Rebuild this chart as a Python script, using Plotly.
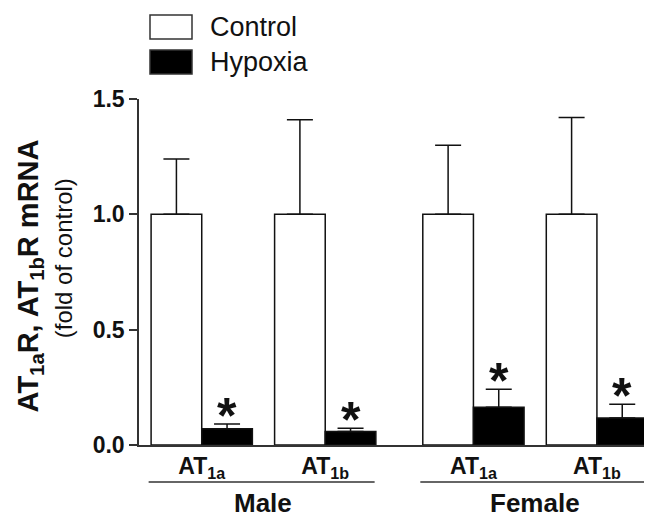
import plotly.graph_objects as go

# ---- data ----
sexes = ["Male", "Female"]
receptors = ["AT<sub>1a</sub>", "AT<sub>1b</sub>"]
series_names = ["Control", "Hypoxia"]
control_vals = [1.0, 1.0, 1.0, 1.0]
control_err = [0.24, 0.41, 0.30, 0.42]
hypoxia_vals = [0.07, 0.058, 0.164, 0.117]
hypoxia_err = [0.021, 0.015, 0.078, 0.06]
significant = [True, True, True, True]

# ---- layout helpers ----
sex_gap = 2.2
pos = []
tick_text = []
for si, s in enumerate(sexes):
    for ri, r in enumerate(receptors):
        pos.append(si * sex_gap + ri)
        tick_text.append(r)
bw = 0.41
off = bw / 2

FONT = "Liberation Sans, Arial, sans-serif"
INK = "#111111"
AX = "#333333"

fig = go.Figure()
fig.add_trace(go.Bar(
    x=[p - off for p in pos], y=control_vals, width=bw, name=series_names[0],
    marker=dict(color="white", line=dict(color=INK, width=1.5)),
    error_y=dict(type="data", array=control_err, arrayminus=[0] * 4,
                 symmetric=False, color=INK, thickness=1.5, width=13),
    showlegend=False,
))
fig.add_trace(go.Bar(
    x=[p + off for p in pos], y=hypoxia_vals, width=bw, name=series_names[1],
    marker=dict(color="black", line=dict(color=INK, width=1.5)),
    error_y=dict(type="data", array=hypoxia_err, arrayminus=[0] * 4,
                 symmetric=False, color=INK, thickness=1.5, width=13),
    showlegend=False,
))

annotations = []
shapes = []
# asterisks
for i, p in enumerate(pos):
    if significant[i]:
        annotations.append(dict(
            x=p + off, y=hypoxia_vals[i] + hypoxia_err[i], xref="x", yref="y",
            text="<b>*</b>", showarrow=False, yanchor="bottom", yshift=-22,
            font=dict(family=FONT, size=50, color=INK)))

# sex group underlines and labels
for si, s in enumerate(sexes):
    a = pos[si * 2]
    b = pos[si * 2 + 1]
    shapes.append(dict(type="line", xref="x", yref="paper",
                       x0=a - 0.43, x1=b + 0.4, y0=-0.107, y1=-0.107,
                       line=dict(color=AX, width=1.5)))
    annotations.append(dict(x=(a + b) / 2, y=-0.168, xref="x", yref="paper",
                            text="<b>%s</b>" % s, showarrow=False, yanchor="middle",
                            font=dict(family=FONT, size=26, color=INK)))

# y-axis title (two lines)
annotations.append(dict(x=-0.212, y=0.488, xref="paper", yref="paper",
                        text="<b>AT<sub>1a</sub>R, AT<sub>1b</sub>R mRNA</b>",
                        textangle=-90, showarrow=False, xanchor="center", yanchor="middle",
                        font=dict(family=FONT, size=29, color=INK)))
annotations.append(dict(x=-0.148, y=0.54, xref="paper", yref="paper",
                        text="(fold of control)",
                        textangle=-90, showarrow=False, xanchor="center", yanchor="middle",
                        font=dict(family=FONT, size=24, color=INK)))

# legend (manual)
leg_fill = ["white", "black"]
leg_y = [27, 62]
for name, fill, yc in zip(series_names, leg_fill, leg_y):
    shapes.append(dict(type="rect", xref="paper", yref="paper",
                       x0=(150 - 139) / 513, x1=(192 - 139) / 513,
                       y0=(445 - (yc - 12)) / 346, y1=(445 - (yc + 12)) / 346,
                       fillcolor=fill, line=dict(color=AX, width=1.5)))
    annotations.append(dict(x=(208 - 139) / 513, y=(445 - yc) / 346, xref="paper", yref="paper",
                            text=name, showarrow=False, xanchor="left", yanchor="middle",
                            font=dict(family=FONT, size=27, color=INK)))

fig.update_layout(
    width=644, height=511,
    margin=dict(l=131, r=0, t=91, b=74, autoexpand=False),
    paper_bgcolor="white", plot_bgcolor="white",
    barmode="overlay",
    font=dict(family=FONT, color=INK),
    annotations=annotations, shapes=shapes,
    xaxis=dict(range=[-0.508, 3.646], showgrid=False, zeroline=False,
               showline=True, linecolor=AX, linewidth=1.5,
               tickvals=pos, ticktext=["<b>%s</b>" % t for t in tick_text],
               ticks="", tickfont=dict(family=FONT, size=23, color=INK)),
    yaxis=dict(range=[0, 1.5], showgrid=False, zeroline=False,
               showline=True, linecolor=AX, linewidth=1.5,
               tickvals=[0, 0.5, 1.0, 1.5], tickformat=".1f",
               ticks="outside", ticklen=8, tickwidth=1.5, tickcolor=AX,
               tickfont=dict(family=FONT, size=23, color=INK, weight="bold")),
)

fig.write_html("out.html")
